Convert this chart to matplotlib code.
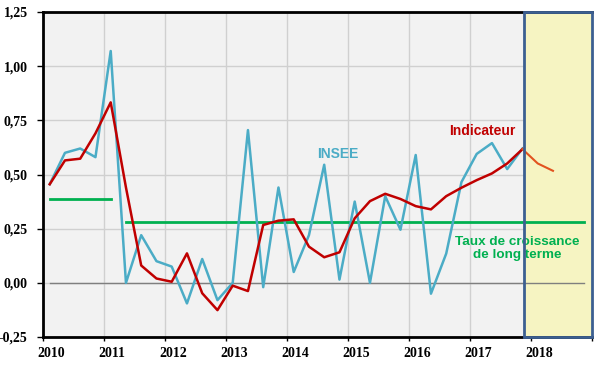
"""Indicateur vs INSEE quarterly growth, with long-term growth rate"""
import numpy as np
import matplotlib.pyplot as plt
from matplotlib.patches import Rectangle

# quarterly growth (%) from 2010 Q1
insee = [0.455, 0.60, 0.62, 0.58, 1.07, 0.00, 0.22, 0.10, 0.075, -0.095,
         0.11, -0.08, 0.00, 0.705, -0.02, 0.44, 0.05, 0.22, 0.545, 0.015,
         0.375, 0.00, 0.40, 0.245, 0.59, -0.05, 0.135, 0.465, 0.595, 0.645,
         0.525, 0.62]
indic = [0.455, 0.565, 0.573, 0.69, 0.833, 0.44, 0.08, 0.02, 0.005, 0.136,
         -0.048, -0.126, -0.013, -0.038, 0.267, 0.287, 0.293, 0.167, 0.118, 0.141,
         0.298, 0.377, 0.411, 0.387, 0.354, 0.339, 0.40, 0.439, 0.474, 0.505,
         0.551, 0.617]
forecast = [0.617, 0.551, 0.517]   # starts at last observed quarter

# long-term growth rate: (start, end, value)
lt_periods = [(2010.11, 2011.11, 0.388), (2011.36, 2018.87, 0.279)]

years = list(range(2010, 2019))

first_q = 2010.11
t = first_q + 0.25 * np.arange(len(indic))
t_fc = t[-1] + 0.25 * np.arange(len(forecast))

fig = plt.figure(figsize=(6, 3.7), dpi=100)
ax = fig.add_axes([43 / 600, 33 / 370, 549 / 600, 325 / 370])
ax.set_facecolor("#f2f2f2")

# forecast zone
x0 = t[-1] + 0.03
ax.axvspan(x0, 2019, color="#f6f4c2", zorder=1, lw=0)
ax.add_patch(Rectangle((x0, -0.25), 2019 - x0, 1.5, fill=False,
                       edgecolor="#3c5f91", lw=2, zorder=4, clip_on=False))

ax.plot([first_q, 2018.87], [0, 0], color="#7f7f7f", lw=1, zorder=2)
for a, b, v in lt_periods:
    ax.plot([a, b], [v, v], color="#00b050", lw=2, zorder=2)

ax.plot(t, insee, color="#4bacc6", lw=1.8, zorder=3)
ax.plot(t, indic, color="#c00000", lw=1.8, zorder=3)
ax.plot(t_fc, forecast, color="#e2531f", lw=1.5, zorder=3)

ax.text(2014.84, 0.593, "INSEE", color="#4bacc6", fontsize=10, fontweight="bold",
        family="Liberation Sans", ha="center", va="center")
ax.text(2017.21, 0.70, "Indicateur", color="#c00000", fontsize=10, fontweight="bold",
        family="Liberation Sans", ha="center", va="center")
ax.text(2017.78, 0.158, "Taux de croissance\nde long terme", color="#00b050",
        fontsize=9.7, fontweight="bold", family="Liberation Sans",
        ha="center", va="center", linespacing=1.1)

ax.set_xlim(2010, 2019)
ax.set_ylim(-0.25, 1.25)
# tick marks on years, labels slightly to the right (minor ticks)
ax.set_xticks(np.arange(2010, 2020))
ax.set_xticklabels([])
ax.set_xticks([y + 0.13 for y in years], minor=True)
ax.set_xticklabels([str(y) for y in years], minor=True)
yt = np.arange(-0.25, 1.26, 0.25)
ax.set_yticks(yt)
ax.set_yticklabels([f"{v:.2f}".replace(".", ",") for v in yt])
ax.grid(True, which="major", color="#d0d0d0", lw=1)
ax.set_axisbelow(True)

for lbl in ax.get_xticklabels(minor=True) + ax.get_yticklabels():
    lbl.set_fontfamily("Liberation Serif")
    lbl.set_fontweight("bold")
    lbl.set_fontsize(10)
ax.tick_params(axis="x", which="major", length=3, width=1)
ax.tick_params(axis="x", which="minor", length=0, pad=7)
ax.tick_params(axis="y", length=4, width=1, pad=7)

for s in ["left", "bottom", "top"]:
    ax.spines[s].set_linewidth(2)
    ax.spines[s].set_color("black")
ax.spines["right"].set_visible(False)

fig.savefig("out.png", dpi=100)
